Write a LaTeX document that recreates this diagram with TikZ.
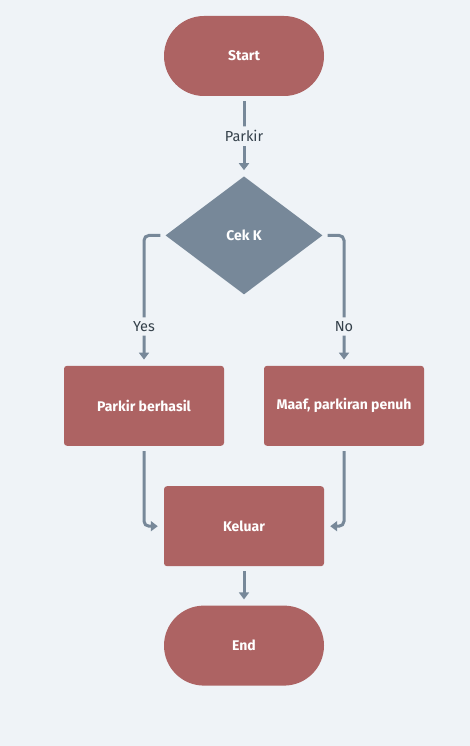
\documentclass[tikz,border=0pt]{standalone}
\usepackage{fontspec}
\setmainfont{Fira Sans}
\usetikzlibrary{positioning,shapes.geometric,arrows.meta}
\definecolor{bgcol}{HTML}{EFF3F7}
\definecolor{boxred}{HTML}{AD6363}
\definecolor{slate}{HTML}{778899}
\definecolor{labcol}{HTML}{34404A}

\begin{document}
\begin{tikzpicture}[x=1pt,y=-1pt,node distance=40pt,
	terminal/.style={rectangle,rounded corners=40pt,fill=boxred,text=white,minimum width=160pt,minimum height=80pt,font=\fontsize{14}{16}\selectfont\bfseries},
	proc/.style={rectangle,rounded corners=3pt,fill=boxred,text=white,minimum width=160pt,minimum height=80pt,font=\fontsize{14}{16}\selectfont\bfseries},
	choice/.style={diamond,fill=slate,text=white,inner sep=0pt,minimum width=157pt,minimum height=118pt,font=\fontsize{14}{16}\selectfont\bfseries},
	link/.style={draw=slate,line width=3pt,rounded corners=5pt,-{Triangle[width=10pt,length=7pt]},shorten <=5pt,shorten >=6pt},
	lab/.style={fill=bgcol,text=labcol,inner sep=4pt,font=\fontsize{14.5}{16}\selectfont}]

	\fill[bgcol] (0,0) rectangle (470,746);

	\node[terminal] (start) at (244,56) {Start};
	\node[choice] (cek) [below=80pt of start] {Cek K};
	\node[proc] (berhasil) [below=71pt of cek, xshift=-100pt] {Parkir berhasil};
	\node[proc] (penuh) [below=71pt of cek, xshift=100pt] {Maaf, parkiran penuh};
	\node[proc] (keluar) [below=40pt of berhasil, xshift=100pt] {Keluar};
	\node[terminal] (end) [below=39pt of keluar] {End};

	\draw[link] (start) -- node[lab] {Parkir} (cek);
	\draw[link] (cek.west) -| node[lab,pos=0.85] {Yes} (berhasil.north);
	\draw[link] (cek.east) -| node[lab,pos=0.85] {No} (penuh.north);
	\draw[link] (berhasil.south) |- (keluar.west);
	\draw[link] (penuh.south) |- (keluar.east);
	\draw[link] (keluar) -- (end);
\end{tikzpicture}
\end{document}
